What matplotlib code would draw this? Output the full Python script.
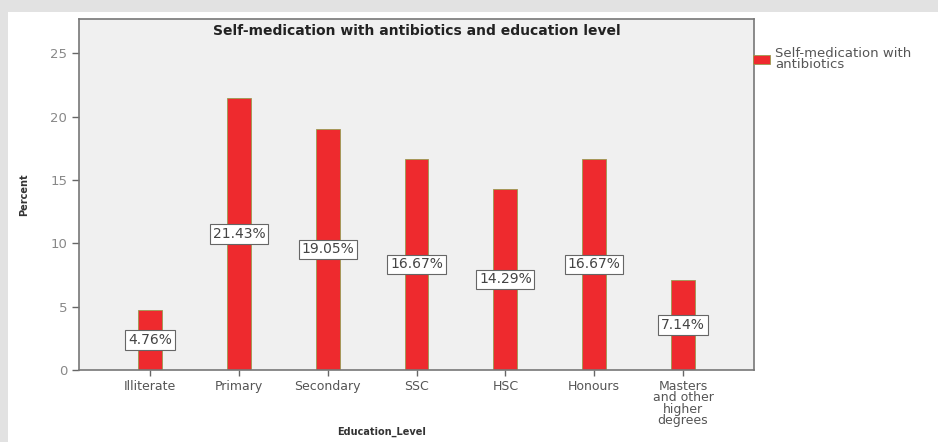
import matplotlib.pyplot as plt
from matplotlib.patches import Rectangle

categories = ['Illiterate', 'Primary', 'Secondary', 'SSC', 'HSC', 'Honours',
              'Masters\nand other\nhigher\ndegrees']
percent = [4.76, 21.43, 19.05, 16.67, 14.29, 16.67, 7.14]
yticks = [0, 5, 10, 15, 20, 25]

plt.rcParams['font.family'] = ['DejaVu Sans']

fig = plt.figure(figsize=(9.38, 4.42), dpi=100)
fig.patch.set_facecolor('#e2e2e2')
fig.patches.append(Rectangle((8/938, 0), 1, 430/442, transform=fig.transFigure,
                             facecolor='white', edgecolor='none', zorder=-10))

ax = fig.add_axes([79/938, 72/442, 675/938, 351/442])
ax.set_facecolor('#f0f0f0')
x = list(range(len(categories)))
ax.bar(x, percent, width=0.27, color='#ee2a2e', edgecolor='#9a9a50', linewidth=0.6,
       label='Self-medication with\nantibiotics', zorder=2)
for xi, v in zip(x, percent):
    ax.text(xi, v / 2, f'{v:.2f}%', ha='center', va='center', fontsize=10, color='#444444',
            bbox=dict(boxstyle='square,pad=0.2', facecolor='white', edgecolor='#666666', linewidth=0.8),
            zorder=3)

ax.set_xlim(-0.8, 6.8)
ax.set_ylim(0, 27.7)
ax.set_yticks(yticks)
ax.set_xticks(x)
ax.set_xticklabels(categories, fontsize=9, color='#555555', linespacing=0.85)
ax.tick_params(axis='y', labelsize=9.5, labelcolor='#888888', color='#666666', length=5, width=1)
ax.tick_params(axis='x', color='#666666', length=4, width=1, pad=3)
for s in ax.spines.values():
    s.set_color('#777777')
    s.set_linewidth(1.2)

ax.text(0.5, 0.985, 'Self-medication with antibiotics and education level', transform=ax.transAxes,
        ha='center', va='top', fontsize=10, fontweight='bold', color='#222222')
ax.set_ylabel('Percent', fontsize=7, fontweight='bold', color='#333333', labelpad=15)
fig.text(382/938, 1 - 432/442, 'Education_Level', ha='center', va='center',
         fontsize=7, fontweight='bold', color='#333333')

leg = ax.legend(loc='upper left', bbox_to_anchor=(0.998, 0.92), frameon=False, fontsize=9.5,
                handlelength=1.3, handleheight=0.7, handletextpad=0.4, labelcolor='#555555',
                borderaxespad=0, borderpad=0, labelspacing=0)
for t in leg.get_texts():
    t.set_linespacing(0.75)

fig.savefig('out.png', dpi=100, facecolor=fig.get_facecolor())
